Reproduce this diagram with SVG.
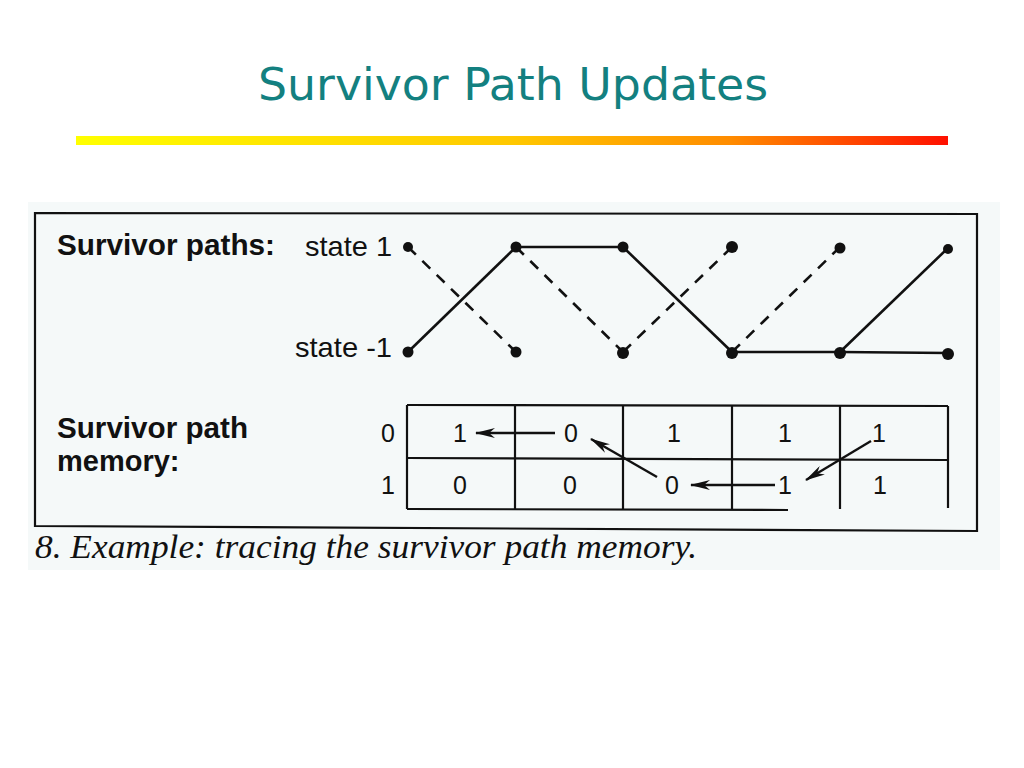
<svg xmlns="http://www.w3.org/2000/svg" width="1024" height="768" viewBox="0 0 1024 768">
<defs>
<linearGradient id="bar" x1="0" y1="0" x2="1" y2="0">
<stop offset="0" stop-color="#FFFF00"/>
<stop offset="0.5" stop-color="#FFC800"/>
<stop offset="0.75" stop-color="#FF8C00"/>
<stop offset="1" stop-color="#FF1000"/>
</linearGradient>
<marker id="ah" viewBox="0 0 20 10" refX="19" refY="5" markerWidth="20" markerHeight="10" markerUnits="userSpaceOnUse" orient="auto">
<path d="M20,5 L0,0 L6,5 L0,10 Z" fill="#111"/>
</marker>
</defs>
<style>
.ttl{font-family:"DejaVu Sans","Liberation Sans",sans-serif;font-size:44px;fill:#138080}
.b{font-family:"Liberation Sans",Arial,sans-serif;font-weight:bold;font-size:29px;fill:#111}
.r{font-family:"Liberation Sans",Arial,sans-serif;font-size:28px;fill:#111}
.d{font-family:"Liberation Sans",Arial,sans-serif;font-size:25px;fill:#111;text-anchor:middle}
.cap{font-family:"Liberation Serif","Times New Roman",serif;font-style:italic;font-size:34px;fill:#111}
.s{stroke:#111;stroke-width:2.6;fill:none}
.ds{stroke:#111;stroke-width:2.6;fill:none;stroke-dasharray:11 9}
.g{stroke:#111;stroke-width:2.2;fill:none}
.ar{stroke:#111;stroke-width:2.4;fill:none;marker-end:url(#ah)}
.dot{fill:#111}
</style>
<rect width="1024" height="768" fill="#FFFFFF"/>
<g id="title">
<text class="ttl" x="513" y="100" text-anchor="middle" textLength="510" lengthAdjust="spacingAndGlyphs">Survivor Path Updates</text>
<rect x="76" y="136" width="872" height="9" fill="url(#bar)"/>
</g>
<g id="figure">
<rect x="28" y="202" width="972" height="368" fill="#F5F9F9"/>
<path d="M35,213 L977,214 L977,531 L35,526 Z" fill="none" stroke="#111" stroke-width="2.2"/>
</g>
<g id="labels">
<text class="b" x="57" y="255" textLength="218" lengthAdjust="spacingAndGlyphs">Survivor paths:</text>
<text class="r" x="305" y="256" textLength="87" lengthAdjust="spacingAndGlyphs">state 1</text>
<text class="r" x="295" y="357" textLength="97" lengthAdjust="spacingAndGlyphs">state -1</text>
<text class="b" x="57" y="438" textLength="191" lengthAdjust="spacingAndGlyphs">Survivor path</text>
<text class="b" x="57" y="471">memory:</text>
</g>
<g id="connectors">
<line class="ds" x1="408" y1="247" x2="516" y2="352"/>
<line class="s" x1="408" y1="352" x2="516" y2="247"/>
<line class="s" x1="516" y1="247" x2="623" y2="247"/>
<line class="ds" x1="516" y1="247" x2="623" y2="352"/>
<line class="s" x1="623" y1="247" x2="732" y2="352"/>
<line class="ds" x1="623" y1="352" x2="732" y2="247"/>
<line class="ds" x1="732" y1="352" x2="840" y2="247"/>
<line class="s" x1="732" y1="352" x2="840" y2="352"/>
<line class="s" x1="840" y1="352" x2="948" y2="353"/>
<line class="s" x1="840" y1="352" x2="948" y2="248"/>
</g>
<g id="trellis-nodes">
<g id="n-1-0"><circle class="dot" cx="408" cy="247" r="5"/></g>
<g id="n-1-1"><circle class="dot" cx="516" cy="247" r="5.5"/></g>
<g id="n-1-2"><circle class="dot" cx="623" cy="247" r="5.5"/></g>
<g id="n-1-3"><circle class="dot" cx="732" cy="247" r="6"/></g>
<g id="n-1-4"><circle class="dot" cx="840" cy="248" r="5.5"/></g>
<g id="n-1-5"><circle class="dot" cx="948" cy="249" r="5"/></g>
<g id="n-0-0"><circle class="dot" cx="408" cy="352" r="5.5"/></g>
<g id="n-0-1"><circle class="dot" cx="516" cy="352" r="5.5"/></g>
<g id="n-0-2"><circle class="dot" cx="623" cy="353" r="6"/></g>
<g id="n-0-3"><circle class="dot" cx="732" cy="353" r="6"/></g>
<g id="n-0-4"><circle class="dot" cx="840" cy="353" r="6"/></g>
<g id="n-0-5"><circle class="dot" cx="948" cy="354" r="6"/></g>
</g>
<g id="memory-table">
<line class="g" x1="407" y1="405" x2="948" y2="406"/>
<line class="g" x1="407" y1="458" x2="948" y2="460"/>
<line class="g" x1="407" y1="509" x2="788" y2="510"/>
<line class="g" x1="407" y1="405" x2="407" y2="509"/>
<line class="g" x1="515" y1="405" x2="515" y2="509"/>
<line class="g" x1="623" y1="405" x2="623" y2="509"/>
<line class="g" x1="732" y1="406" x2="732" y2="509"/>
<line class="g" x1="840" y1="406" x2="840" y2="509"/>
<line class="g" x1="948" y1="406" x2="948" y2="508"/>
<text class="d" x="388" y="442">0</text>
<text class="d" x="388" y="494">1</text>
<text class="d" x="460" y="442">1</text>
<text class="d" x="571" y="442">0</text>
<text class="d" x="674" y="442">1</text>
<text class="d" x="785" y="442">1</text>
<text class="d" x="879" y="442">1</text>
<text class="d" x="460" y="494">0</text>
<text class="d" x="570" y="494">0</text>
<text class="d" x="672" y="494">0</text>
<text class="d" x="785" y="494">1</text>
<text class="d" x="880" y="494">1</text>
</g>
<g id="trace-arrows">
<line class="ar" x1="555" y1="433" x2="476" y2="433"/>
<line class="ar" x1="657" y1="477" x2="591" y2="439"/>
<line class="ar" x1="775" y1="485" x2="691" y2="485"/>
<line class="ar" x1="871" y1="441" x2="806" y2="480"/>
</g>
<g id="caption">
<text class="cap" x="35" y="558" textLength="662" lengthAdjust="spacingAndGlyphs">8. Example: tracing the survivor path memory.</text>
</g>
</svg>
